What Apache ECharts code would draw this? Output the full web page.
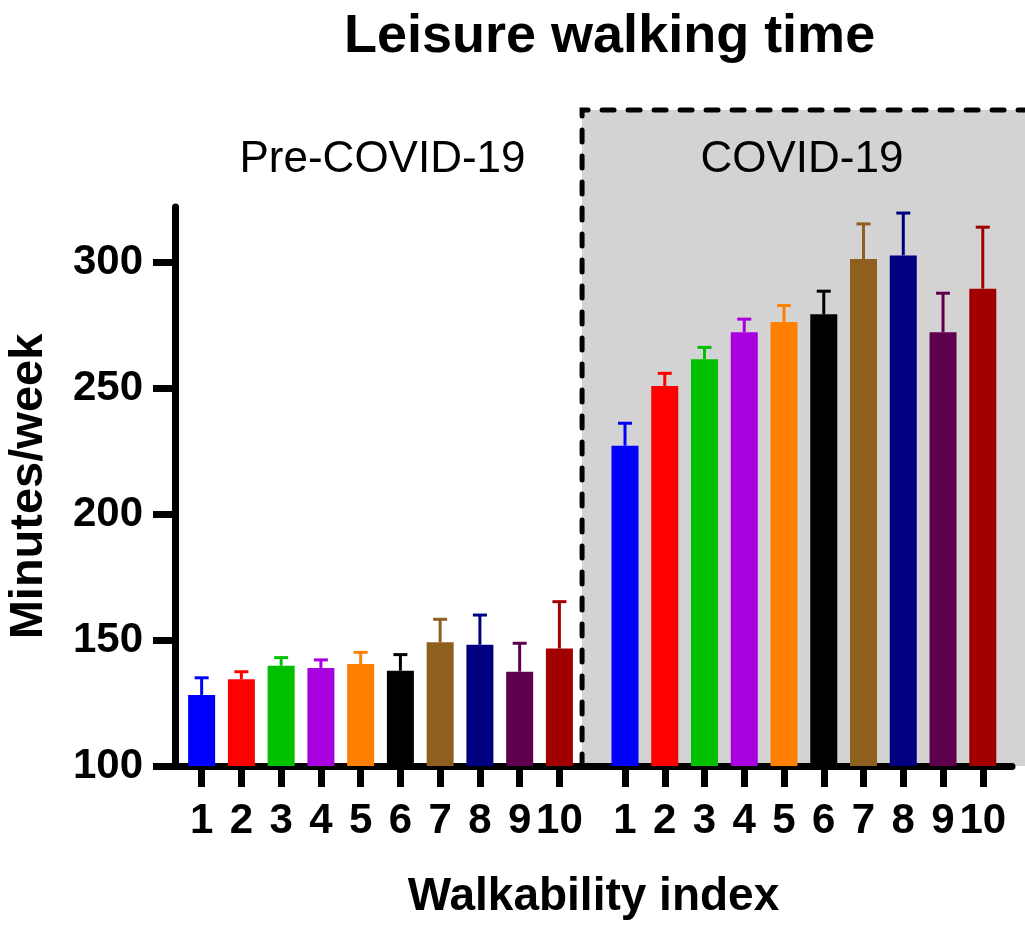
<!DOCTYPE html>
<html><head><meta charset="utf-8">
<script src="https://cdn.jsdelivr.net/npm/echarts@6/dist/echarts.min.js"></script>
<style>html,body{margin:0;padding:0;background:#fff}#c{width:1025px;height:927px}</style>
</head><body><div id="c"></div>
<script>
// ---- data ----
const categories = ['1','2','3','4','5','6','7','8','9','10'];
const periods = ['Pre-COVID-19', 'COVID-19'];
const preMeans   = [128.2, 134.4, 139.8, 138.9, 140.5, 137.8, 149.1, 148.1, 137.4, 146.6];
const preSem     = [6.8, 3.0, 3.2, 3.2, 4.6, 6.4, 9.1, 11.8, 11.3, 18.6];
const covidMeans = [227.1, 250.8, 261.4, 272.1, 276.2, 279.2, 301.2, 302.6, 272.1, 289.4];
const covidSem   = [8.9, 5.0, 4.7, 5.2, 6.5, 9.2, 13.9, 16.8, 15.5, 24.4];
const yTicks = [100, 150, 200, 250, 300];
const barColors = ['#0000FF','#FF0000','#00C000','#A800DF','#FF8000','#000000','#8F5F20','#000080','#5F004F','#A00000'];

// ---- layout constants ----
const GROUP_SHIFT = 10.65;     // x offset of the second group
const REGION_START = 10.57;    // left edge of the grey COVID panel (x units)
const FONT = '"Liberation Sans", Arial, sans-serif';

const preX = categories.map((c, i) => i + 1);
const covidX = categories.map((c, i) => i + 1 + GROUP_SHIFT);
const allX = preX.concat(covidX);

function tickLabel(v) {
  const idx = allX.findIndex(x => Math.abs(x - v) < 1e-6);
  return idx < 0 ? '' : categories[idx % categories.length];
}

const barData = (xs, means) => xs.map((x, i) => ({ value: [x, means[i]], itemStyle: { color: barColors[i] } }));
const errData = (xs, means, sem) => xs.map((x, i) => [x, means[i], means[i] + sem[i], i]);

const chart = echarts.init(document.getElementById('c'), null, { renderer: 'canvas' });
const option = {
  animation: false,
  backgroundColor: '#fff',
  title: {
    text: 'Leisure walking time',
    left: 339, top: 5,
    textStyle: { fontSize: 54, fontWeight: 'bold', color: '#000', fontFamily: FONT }
  },
  grid: { left: 175, right: 13, top: 207, bottom: 161, containLabel: false, outerBoundsMode: 'none' },
  xAxis: {
    type: 'value', min: 0.33, max: 21.385,
    name: 'Walkability index', nameLocation: 'middle', nameGap: 108,
    nameTextStyle: { fontSize: 46, fontWeight: 'bold', color: '#000', fontFamily: FONT },
    splitLine: { show: false },
    axisLine: { onZero: false, lineStyle: { color: '#000', width: 7 } },
    axisTick: { customValues: allX, length: 21, lineStyle: { color: '#000', width: 7 } },
    axisLabel: { customValues: allX, formatter: tickLabel, fontSize: 42, fontWeight: 'bold', color: '#000', margin: 34, fontFamily: FONT }
  },
  yAxis: {
    type: 'value', min: 100, max: 321.8, interval: 50,
    name: 'Minutes/week', nameLocation: 'middle', nameGap: 122,
    nameTextStyle: { fontSize: 47, fontWeight: 'bold', color: '#000', fontFamily: FONT },
    splitLine: { show: false },
    axisLine: { show: true, onZero: false, lineStyle: { color: '#000', width: 7 } },
    axisTick: { customValues: yTicks, length: 22, lineStyle: { color: '#000', width: 7 } },
    axisLabel: { customValues: yTicks, fontSize: 42, fontWeight: 'bold', color: '#000', margin: 32, fontFamily: FONT }
  },
  series: [
    { name: periods[0], type: 'bar', barWidth: 27, barGap: '-100%', z: 3, data: barData(preX, preMeans) },
    { name: periods[1], type: 'bar', barWidth: 27, barGap: '-100%', z: 3, data: barData(covidX, covidMeans) },
    {
      name: 'SEM', type: 'custom', z: 4,
      data: errData(preX, preMeans, preSem).concat(errData(covidX, covidMeans, covidSem)),
      renderItem: function (params, api) {
        const x = api.value(0);
        const p0 = api.coord([x, api.value(1)]);
        const p1 = api.coord([x, api.value(2)]);
        const c = barColors[api.value(3)];
        const st = { stroke: c, lineWidth: 3 };
        return {
          type: 'group',
          children: [
            { type: 'line', shape: { x1: p0[0], y1: p0[1], x2: p1[0], y2: p1[1] }, style: st },
            { type: 'line', shape: { x1: p1[0] - 7, y1: p1[1], x2: p1[0] + 7, y2: p1[1] }, style: st }
          ]
        };
      }
    }
  ]
};
chart.setOption(option);

// grey COVID panel + dashed border + group labels
const xr = chart.convertToPixel({ xAxisIndex: 0 }, REGION_START);
const yb = chart.convertToPixel({ yAxisIndex: 0 }, 100);
const panelTop = 110;
const preCenter = chart.convertToPixel({ xAxisIndex: 0 }, (preX[0] + preX[preX.length - 1]) / 2);
const covCenter = chart.convertToPixel({ xAxisIndex: 0 }, (covidX[0] + covidX[covidX.length - 1]) / 2);
chart.setOption({
  graphic: [
    { type: 'rect', z: -10, silent: true, shape: { x: xr, y: panelTop, width: 1025 - xr + 5, height: yb - panelTop }, style: { fill: '#D3D3D3' } },
    { type: 'polyline', z: 1, silent: true, shape: { points: [[xr, yb], [xr, panelTop], [1030, panelTop]] },
      style: { stroke: '#000', lineWidth: 5, lineDash: [12, 14], lineCap: 'round', fill: null } },
    { type: 'text', z: 5, x: preCenter + 2, y: 160, style: { text: periods[0], fontSize: 44, fontFamily: FONT, fill: '#000', align: 'center', verticalAlign: 'middle' } },
    { type: 'text', z: 5, x: covCenter - 2, y: 160, style: { text: periods[1], fontSize: 44, fontFamily: FONT, fill: '#000', align: 'center', verticalAlign: 'middle' } }
  ]
});
</script>
</body></html>
